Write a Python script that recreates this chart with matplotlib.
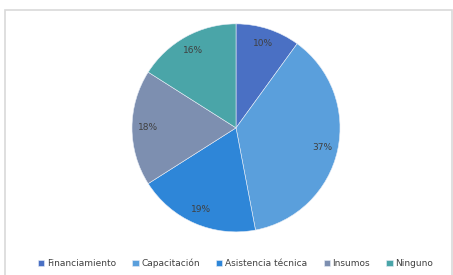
import matplotlib
matplotlib.use("Agg")
import matplotlib.pyplot as plt
from matplotlib.patches import Rectangle

# -------------------------------
# DATA
# -------------------------------
labels = ["Financiamiento", "Capacitación", "Asistencia técnica", "Insumos", "Ninguno"]
values = [10, 37, 19, 18, 16]
colors = ["#4a70c4", "#5a9fdc", "#2e86d8", "#7d8fb0", "#4aa5a8"]

# -------------------------------
# FIGURE
# -------------------------------
fig = plt.figure(figsize=(4.53, 2.75), dpi=100)
fig.patch.set_facecolor("white")

# light frame around the chart area (open at the bottom edge)
frame = Rectangle((5 / 453, -0.05), 447 / 453, 265 / 275 + 0.05, transform=fig.transFigure,
                  fill=False, edgecolor="#d9d9d9", linewidth=1.2)
fig.patches.append(frame)

ax = fig.add_axes([0.289, 0.153, 0.464, 0.764])
wedges, texts, autotexts = ax.pie(
    values, colors=colors, startangle=90, counterclock=False,
    autopct="%d%%", pctdistance=0.85,
    wedgeprops=dict(edgecolor="#e8eef7", linewidth=0.4),
    textprops=dict(fontsize=6.5, color="#404040"),
)
ax.set_aspect("equal")
ax.set_xlim(-1.01, 1.01)
ax.set_ylim(-1.01, 1.01)

fig.legend(wedges, labels, loc="center", bbox_to_anchor=(0.52, 0.043), ncol=5,
           frameon=False, fontsize=6.5, handlelength=0.7, handleheight=0.7,
           handletextpad=0.3, columnspacing=1.8, labelcolor="#404040")

plt.savefig("out.png", dpi=100)
plt.close()
